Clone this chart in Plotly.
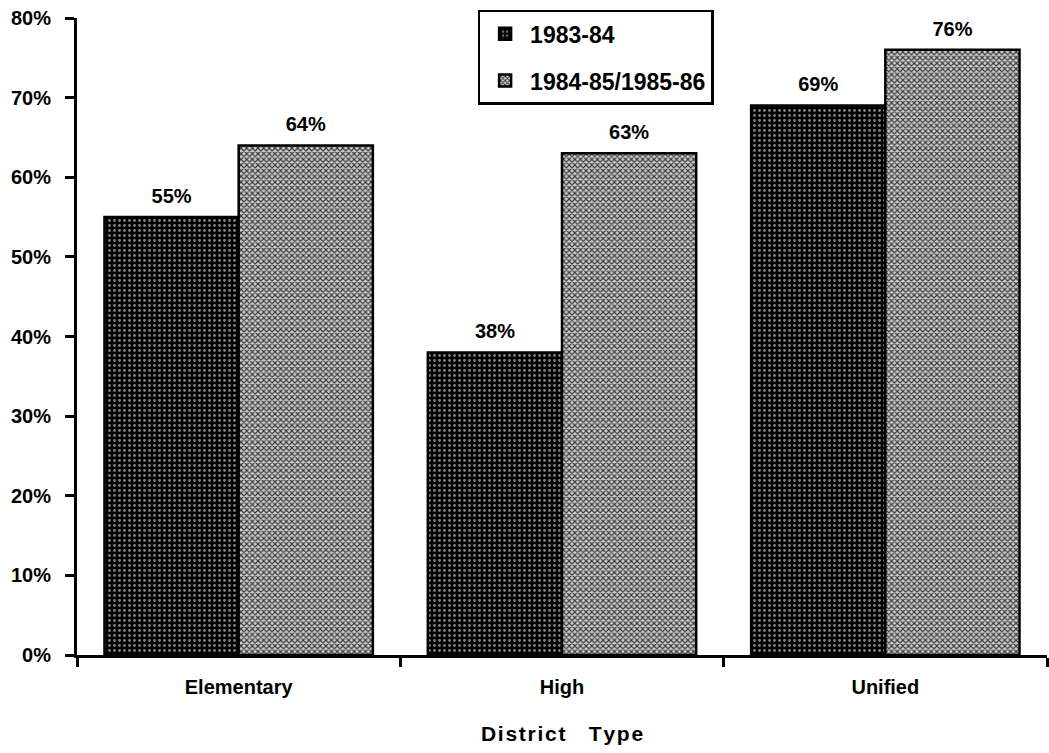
import plotly.graph_objects as go

# District types and percentage values per period
district_types = ["Elementary", "High", "Unified"]
pct_1983_84 = [55, 38, 69]
pct_1984_86 = [64, 63, 76]
series_names = ["1983-84", "1984-85/1985-86"]
y_ticks = [0, 10, 20, 30, 40, 50, 60, 70, 80]

FONT = "Liberation Sans, Arial, Helvetica, sans-serif"
SIZE = 20
BOLD = dict(family=FONT, size=SIZE, color="black", weight=700)

fig = go.Figure()

fig.add_trace(go.Bar(
    name=series_names[0],
    legendgroup="a",
    x=district_types,
    y=pct_1983_84,
    hoverinfo="x+y",
    marker=dict(
        color="black",
        line=dict(color="black", width=2.5),
        pattern=dict(shape=".", fgcolor="white", bgcolor="black",
                     size=5, solidity=0.25, fillmode="overlay"),
    ),
))

fig.add_trace(go.Bar(
    name=series_names[1],
    legendgroup="b",
    x=district_types,
    y=pct_1984_86,
    hoverinfo="x+y",
    marker=dict(
        color="#8a8a8a",
        line=dict(color="black", width=2.5),
        pattern=dict(shape="x", fgcolor="#3a3a3a", bgcolor="#cfcfcf",
                     size=4, solidity=0.5, fillmode="replace"),
    ),
))

# Value labels above each bar, grouped alongside the bars
for vals in (pct_1983_84, pct_1984_86):
    fig.add_trace(go.Scatter(
        x=district_types,
        y=vals,
        mode="markers+text",
        text=[f"{v}%" for v in vals],
        textposition="top center",
        textfont=BOLD,
        marker=dict(size=13, opacity=0),
        cliponaxis=False,
        showlegend=False,
        hoverinfo="skip",
    ))

fig.update_layout(
    width=1049,
    height=753,
    barmode="group",
    bargap=0.17,
    bargroupgap=0,
    scattermode="group",
    scattergap=0.17,
    plot_bgcolor="white",
    paper_bgcolor="white",
    margin=dict(l=77, r=2, t=18, b=98),
    font=BOLD,
    showlegend=True,
    legend=dict(
        x=0.413, y=1.013, xanchor="left", yanchor="top",
        bordercolor="black", borderwidth=2.5, bgcolor="white",
        font=dict(family=FONT, size=23, color="black", weight=700),
        itemwidth=40,
        tracegroupgap=14,
    ),
    xaxis=dict(
        title=dict(text="D\u200ai\u200as\u200at\u200ar\u200ai\u200ac\u200at&nbsp;&nbsp;&nbsp;&nbsp;T\u200ay\u200ap\u200ae",
                   standoff=30,
                   font=dict(family=FONT, size=21, color="black", weight=700)),
        range=[-0.5, 2.5],
        showline=True, linecolor="black", linewidth=3,
        ticks="outside", tickson="boundaries", ticklen=9, tickwidth=2.5,
        tickcolor="black",
        ticklabelstandoff=12,
        tickfont=BOLD,
        showgrid=False,
        zeroline=False,
    ),
    yaxis=dict(
        range=[0, 80],
        tickvals=y_ticks,
        ticktext=[f"{v}%" for v in y_ticks],
        showline=True, linecolor="black", linewidth=3,
        ticks="outside", ticklen=9, tickwidth=2.5, tickcolor="black",
        ticklabelstandoff=10,
        tickfont=BOLD,
        showgrid=False,
        zeroline=False,
    ),
)

fig.write_html("out.html")
